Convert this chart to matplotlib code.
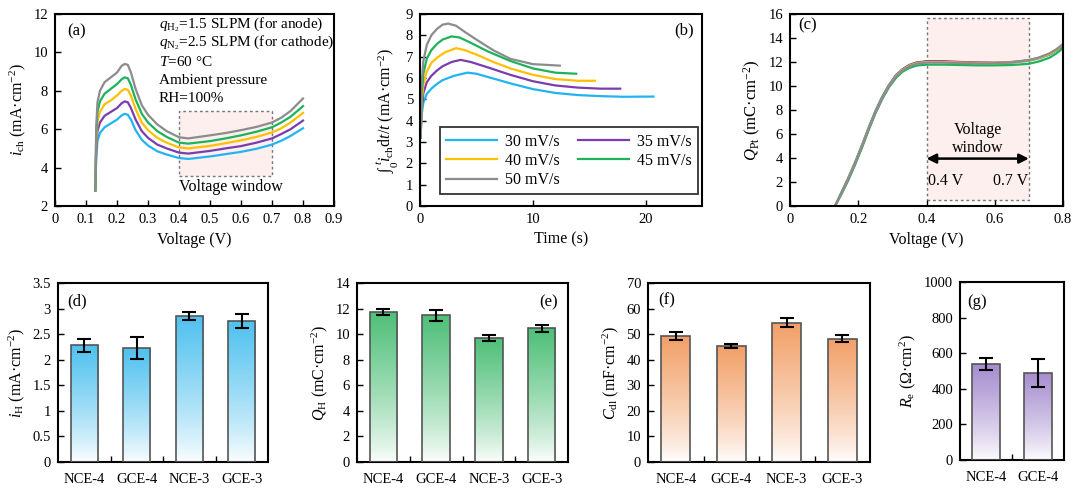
import numpy as np
import matplotlib
matplotlib.use("Agg")
import matplotlib.pyplot as plt
from matplotlib.colors import LinearSegmentedColormap
from matplotlib.patches import Rectangle
from matplotlib.ticker import FuncFormatter, FixedLocator

plt.rcParams['font.family'] = ['Liberation Serif', 'DejaVu Serif']
plt.rcParams['mathtext.fontset'] = 'custom'
plt.rcParams['mathtext.rm'] = 'Liberation Serif'
plt.rcParams['mathtext.it'] = 'Liberation Serif:italic'
plt.rcParams['mathtext.bf'] = 'Liberation Serif:bold'
plt.rcParams['font.size'] = 10

# ---------------- data ----------------
rates = ['30 mV/s', '35 mV/s', '40 mV/s', '45 mV/s', '50 mV/s']
colors = ['#22b4f0', '#7a3db0', '#ffc000', '#1db35a', '#8c8c8c']

# panel (a)
volt_a = [0.130, 0.133, 0.137, 0.145, 0.160, 0.180, 0.200, 0.215, 0.225, 0.235, 0.245, 0.260, 0.280,
          0.300, 0.330, 0.360, 0.400, 0.430, 0.500, 0.550, 0.600, 0.650, 0.700, 0.730, 0.760, 0.800]
ich_30 = [2.8, 4.5, 5.4, 5.8, 6.1, 6.3, 6.5, 6.72, 6.8, 6.75, 6.5, 5.95, 5.45, 5.15, 4.85, 4.68, 4.5, 4.45,
          4.58, 4.7, 4.82, 4.98, 5.2, 5.4, 5.65, 6.05]
ich_35 = [2.8, 4.9, 5.9, 6.35, 6.7, 6.9, 7.1, 7.35, 7.45, 7.4, 7.1, 6.5, 5.9, 5.55, 5.2, 5.0, 4.78, 4.73,
          4.87, 5.0, 5.12, 5.3, 5.52, 5.75, 6.0, 6.45]
ich_40 = [2.8, 5.3, 6.4, 6.9, 7.3, 7.5, 7.75, 8.0, 8.1, 8.05, 7.75, 7.05, 6.35, 5.95, 5.55, 5.3, 5.05, 5.0,
          5.13, 5.27, 5.42, 5.6, 5.83, 6.05, 6.35, 6.85]
ich_45 = [2.8, 5.7, 6.9, 7.45, 7.85, 8.1, 8.35, 8.6, 8.7, 8.65, 8.3, 7.55, 6.8, 6.35, 5.9, 5.6, 5.3, 5.25,
          5.38, 5.52, 5.68, 5.87, 6.1, 6.35, 6.65, 7.2]
ich_50 = [2.8, 6.1, 7.4, 8.0, 8.45, 8.7, 8.95, 9.3, 9.4, 9.35, 8.95, 8.1, 7.25, 6.75, 6.25, 5.9, 5.58, 5.52,
          5.68, 5.8, 5.95, 6.12, 6.35, 6.6, 6.95, 7.6]

# panel (b)
t_30 = [0.05, 0.15, 0.3, 0.6, 1.0, 1.5, 2.0, 3.0, 4.2, 5.0, 6.0, 8.0, 10.0, 12.0, 14.0, 16.0, 18.0, 20.7]
avg_30 = [3.2, 4.3, 4.85, 5.25, 5.5, 5.72, 5.9, 6.1, 6.25, 6.2, 6.05, 5.75, 5.48, 5.3, 5.2, 5.15, 5.12, 5.13]
t_35 = [0.05, 0.15, 0.3, 0.6, 1.0, 1.5, 2.0, 2.8, 3.6, 4.5, 6.0, 8.0, 10.0, 12.0, 14.0, 16.0, 17.75]
avg_35 = [3.2, 4.6, 5.3, 5.8, 6.1, 6.35, 6.55, 6.75, 6.85, 6.75, 6.5, 6.15, 5.85, 5.65, 5.55, 5.5, 5.5]
t_40 = [0.05, 0.15, 0.3, 0.6, 1.0, 1.5, 2.2, 3.2, 4.0, 5.0, 6.5, 8.0, 10.0, 12.0, 14.0, 15.5]
avg_40 = [3.2, 4.9, 5.7, 6.3, 6.7, 6.95, 7.2, 7.4, 7.3, 7.1, 6.75, 6.45, 6.15, 5.95, 5.87, 5.87]
t_45 = [0.05, 0.15, 0.3, 0.6, 1.0, 1.5, 2.0, 2.8, 3.5, 4.5, 6.0, 8.0, 10.0, 12.0, 13.85]
avg_45 = [3.2, 5.3, 6.2, 6.9, 7.3, 7.6, 7.8, 7.95, 7.9, 7.65, 7.25, 6.8, 6.45, 6.25, 6.2]
t_50 = [0.05, 0.15, 0.3, 0.6, 1.0, 1.5, 2.0, 2.5, 3.2, 4.0, 5.0, 6.5, 8.0, 10.0, 12.4]
avg_50 = [3.2, 5.8, 6.8, 7.55, 8.0, 8.3, 8.5, 8.55, 8.45, 8.15, 7.8, 7.3, 6.9, 6.65, 6.58]

# panel (c)
volt_c = [0.132, 0.15, 0.17, 0.19, 0.21, 0.23, 0.25, 0.27, 0.29, 0.31, 0.33, 0.35, 0.37, 0.40, 0.45,
          0.50, 0.55, 0.60, 0.65, 0.70, 0.73, 0.76, 0.78, 0.80]
qpt_30 = [0, 1.1, 2.3, 3.6, 5.0, 6.5, 7.9, 9.1, 10.1, 10.9, 11.4, 11.75, 11.95, 12.02, 12.0, 11.95,
          11.9, 11.9, 11.95, 12.1, 12.3, 12.6, 12.95, 13.35]
qpt_35 = [0, 1.05, 2.25, 3.55, 4.95, 6.45, 7.85, 9.05, 10.05, 10.85, 11.4, 11.75, 11.95, 12.07, 12.07,
          12.0, 11.97, 11.95, 12.0, 12.15, 12.35, 12.65, 13.0, 13.4]
qpt_40 = [0, 1.0, 2.2, 3.5, 4.9, 6.4, 7.8, 9.0, 10.0, 10.8, 11.35, 11.7, 11.9, 12.0, 12.0, 11.95,
          11.92, 11.93, 11.98, 12.12, 12.33, 12.65, 13.0, 13.45]
qpt_45 = [0, 0.95, 2.1, 3.4, 4.8, 6.3, 7.7, 8.9, 9.9, 10.65, 11.2, 11.5, 11.7, 11.78, 11.78, 11.75,
          11.72, 11.72, 11.75, 11.85, 12.05, 12.35, 12.7, 13.15]
qpt_50 = [0, 1.0, 2.15, 3.45, 4.85, 6.35, 7.75, 8.95, 9.95, 10.75, 11.3, 11.65, 11.85, 11.95, 11.95,
          11.9, 11.88, 11.9, 11.97, 12.15, 12.38, 12.72, 13.05, 13.5]

# bar panels
samples4 = ['NCE-4', 'GCE-4', 'NCE-3', 'GCE-3']
samples2 = ['NCE-4', 'GCE-4']
iH = [2.28, 2.23, 2.86, 2.76]
iH_err = [0.12, 0.22, 0.08, 0.14]
QH = [11.75, 11.49, 9.72, 10.46]
QH_err = [0.22, 0.43, 0.25, 0.26]
Cdl = [49.2, 45.2, 54.4, 48.2]
Cdl_err = [1.5, 0.8, 1.8, 1.4]
Re = [539, 490]
Re_err = [33, 80]

# ---------------- figure ----------------
fig = plt.figure(figsize=(10.8, 4.93), dpi=100)
H = 493.0
W = 1080.0


def add_ax(l, r, t, b):
    return fig.add_axes([l / W, 1 - b / H, (r - l) / W, (b - t) / H])


def style(ax, fs=10.5):
    for s in ax.spines.values():
        s.set_linewidth(1.5)
        s.set_color('black')
    ax.tick_params(direction='in', length=4, width=1, top=False, right=False, labelsize=fs,
                   colors='black', pad=5)
    ax.tick_params(which='minor', direction='in', length=4, width=1, top=False, right=False)


gfmt = FuncFormatter(lambda v, p: '%g' % v)
LFS = 11.5

axa = add_ax(55, 334, 14, 206)
axb = add_ax(420, 702, 14, 206)
axc = add_ax(790, 1063, 14, 206)

# (a)
for y, c in zip([ich_30, ich_35, ich_40, ich_45, ich_50], colors):
    axa.plot(volt_a, y, color=c, lw=1.6)
axa.add_patch(Rectangle((0.4, 3.55), 0.3, 3.4, facecolor='#fcefed', edgecolor='#777777',
                        ls=(0, (2, 2)), lw=1.0, zorder=0))
axa.text(0.4, 3.0, 'Voltage window', fontsize=11.5, va='center', ha='left')
axa.set_xlim(0, 0.9)
axa.set_ylim(2, 12)
axa.set_xticks(np.arange(0, 0.91, 0.1))
axa.set_yticks([2, 4, 6, 8, 10, 12])
axa.xaxis.set_major_formatter(gfmt)
axa.set_xlabel('Voltage (V)', fontsize=LFS)
axa.set_ylabel(r'$i_{\mathrm{ch}}$ (mA·cm$^{-2}$)', fontsize=LFS, labelpad=4)
axa.text(0.043, 0.91, '(a)', transform=axa.transAxes, fontsize=12, va='center')
ann = [r'$q_{\mathrm{H_2}}$=1.5 SLPM (for anode)',
       r'$q_{\mathrm{N_2}}$=2.5 SLPM (for cathode)',
       r'$T$=60 °C',
       'Ambient pressure',
       'RH=100%']
for i, s in enumerate(ann):
    axa.text(0.334, 11.43 - i * 0.96, s, fontsize=11, va='center', ha='left')
style(axa)

# (b)
handles = []
for tt, y, c, lab in zip([t_30, t_35, t_40, t_45, t_50], [avg_30, avg_35, avg_40, avg_45, avg_50],
                         colors, rates):
    h, = axb.plot(tt, y, color=c, lw=1.6, label=lab)
    handles.append(h)
order = [0, 2, 4, 1, 3]
leg = axb.legend([handles[i] for i in order], [rates[i] for i in order], ncol=2, loc='lower left',
                 bbox_to_anchor=(0.07, 0.06), fontsize=11.5, frameon=True, fancybox=False,
                 handlelength=3.2, columnspacing=1.1, labelspacing=0.2, borderpad=0.4,
                 handletextpad=0.5, borderaxespad=0)
leg.get_frame().set_edgecolor('black')
leg.get_frame().set_linewidth(1.3)
axb.set_xlim(0, 25)
axb.set_ylim(0, 9)
axb.set_xticks([0, 10, 20])
axb.set_yticks(range(0, 10))
axb.set_xlabel('Time (s)', fontsize=LFS)
axb.set_ylabel(r'$\int_0^{\,t}i_{\mathrm{ch}}\mathrm{d}t/t$ (mA·cm$^{-2}$)', fontsize=LFS, labelpad=4)
axb.text(0.97, 0.915, '(b)', transform=axb.transAxes, fontsize=12, va='center', ha='right')
style(axb)

# (c)
axc.add_patch(Rectangle((0.4, 0.5), 0.3, 15.2, facecolor='#fcefed', edgecolor='#777777',
                        ls=(0, (2, 2)), lw=1.0, zorder=0))
for y, c in zip([qpt_30, qpt_35, qpt_40, qpt_45, qpt_50], colors):
    axc.plot(volt_c, y, color=c, lw=1.6)
axc.annotate('', xy=(0.4, 3.95), xytext=(0.7, 3.95),
             arrowprops=dict(arrowstyle='<|-|>', color='black', lw=1.8, mutation_scale=14,
                             shrinkA=0, shrinkB=0))
axc.text(0.55, 6.3, 'Voltage', fontsize=11.5, ha='center', va='center')
axc.text(0.55, 4.85, 'window', fontsize=11.5, ha='center', va='center')
axc.text(0.405, 2.05, '0.4 V', fontsize=11.5, ha='left', va='center')
axc.text(0.697, 2.05, '0.7 V', fontsize=11.5, ha='right', va='center')
axc.set_xlim(0, 0.8)
axc.set_ylim(0, 16)
axc.set_xticks([0, 0.2, 0.4, 0.6, 0.8])
axc.set_yticks(range(0, 17, 2))
axc.xaxis.set_major_formatter(gfmt)
axc.set_xlabel('Voltage (V)', fontsize=LFS)
axc.set_ylabel(r'$Q_{\mathrm{Pt}}$ (mC·cm$^{-2}$)', fontsize=12, labelpad=4)
axc.text(0.03, 0.94, '(c)', transform=axc.transAxes, fontsize=12, va='center')
style(axc)


# bar panels
def bar_panel(ax, cats, vals, errs, color, ylim, yticks, ylabel, tag, tagpos, tagha='left'):
    x = np.arange(1, len(cats) + 1)
    bars = ax.bar(x, vals, width=0.52, facecolor='none', edgecolor='#555555', lw=1.2, zorder=3)
    cmap = LinearSegmentedColormap.from_list('g', ['#ffffff', color])
    grad = (np.linspace(0, 1, 256) ** 0.8).reshape(-1, 1)
    for b in bars:
        x0, w, h = b.get_x(), b.get_width(), b.get_height()
        im = ax.imshow(grad, extent=(x0, x0 + w, 0, h), origin='lower', cmap=cmap, aspect='auto',
                       zorder=2, vmin=0, vmax=1)
        im.set_clip_path(b)
    ax.errorbar(x, vals, yerr=errs, fmt='none', ecolor='black', capsize=5, elinewidth=1.5,
                capthick=1.5, zorder=4)
    ax.set_xlim(0.5, len(cats) + 0.5)
    ax.set_ylim(*ylim)
    ax.set_yticks(yticks)
    ax.yaxis.set_major_formatter(gfmt)
    ax.set_xticks(x)
    ax.set_xticklabels(cats)
    ax.xaxis.set_minor_locator(FixedLocator(np.arange(1.5, len(cats), 1.0)))
    ax.set_ylabel(ylabel, fontsize=LFS, labelpad=4)
    style(ax)
    ax.tick_params(axis='x', which='major', length=0, pad=8)
    ax.text(tagpos[0], tagpos[1], tag, transform=ax.transAxes, fontsize=12, va='center', ha=tagha)


axd = add_ax(58, 268, 283, 462)
axe = add_ax(357, 568, 283, 462)
axf = add_ax(648, 870, 283, 462)
axg = add_ax(960, 1064, 282, 460)

bar_panel(axd, samples4, iH, iH_err, '#4fc1ef', (0, 3.5), np.arange(0, 3.51, 0.5),
          r'$i_{\mathrm{H}}$ (mA·cm$^{-2}$)', '(d)', (0.043, 0.895))
bar_panel(axe, samples4, QH, QH_err, '#4ebf78', (0, 14), range(0, 15, 2),
          r'$Q_{\mathrm{H}}$ (mC·cm$^{-2}$)', '(e)', (0.95, 0.89), tagha='right')
bar_panel(axf, samples4, Cdl, Cdl_err, '#f2a068', (0, 70), range(0, 71, 10),
          r'$C_{\mathrm{dl}}$ (mF·cm$^{-2}$)', '(f)', (0.045, 0.905))
bar_panel(axg, samples2, Re, Re_err, '#a68dcf', (0, 1000), range(0, 1001, 200),
          r'$R_{\mathrm{e}}$ (Ω·cm$^{2}$)', '(g)', (0.065, 0.89))

fig.savefig('out.png', dpi=100)
